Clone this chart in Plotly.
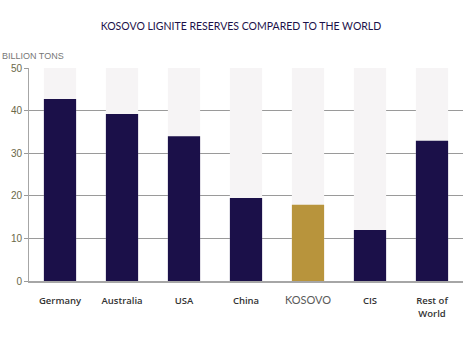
import plotly.graph_objects as go

# Lignite reserves, billion tons
countries = ["Germany", "Australia", "USA", "China", "KOSOVO", "CIS", "Rest of World"]
reserves = [42.7, 39.2, 34.0, 19.5, 17.9, 12.0, 32.9]
axis_max = 50
tick_labels = [
    "Germany", "Australia", "USA", "China",
    "<span style='font-family:Lato;font-size:11px;color:#5a5a5a;font-weight:normal'>KOSOVO</span>",
    "CIS", "Rest of<br>World",
]

navy = "#1b1049"
gold = "#b8943c"
bar_colors = [gold if c == "KOSOVO" else navy for c in countries]

fig = go.Figure()
# pale full-height backdrop behind each bar
fig.add_trace(go.Bar(
    x=countries, y=[axis_max] * len(countries),
    marker=dict(color="#f6f4f5", line=dict(width=0)),
    hoverinfo="skip", showlegend=False,
))
fig.add_trace(go.Bar(
    x=countries, y=reserves,
    marker=dict(color=bar_colors, line=dict(width=0)),
    showlegend=False,
))

fig.update_layout(
    width=467, height=345,
    margin=dict(l=29, r=4, t=68, b=64),
    paper_bgcolor="white", plot_bgcolor="white",
    barmode="overlay", bargap=0.48,
    title=dict(
        text="KOSOVO LIGNITE RESERVES COMPARED TO THE WORLD",
        x=0.516, xanchor="center", y=0.925, yanchor="middle",
        font=dict(family="Lato", size=10.5, color="#1b1049"),
    ),
    annotations=[dict(
        text="BILLION TONS", xref="paper", yref="paper",
        x=-29 / 434, xanchor="left", y=1 + 12 / 213, yanchor="middle",
        showarrow=False, font=dict(family="Liberation Sans", size=9, color="#777777"),
    )],
)
fig.update_xaxes(
    tickmode="array", tickvals=countries, ticktext=tick_labels,
    showline=True, linecolor="#a6a6a6", linewidth=1.5,
    ticks="", showgrid=False, ticklabelstandoff=10,
    tickfont=dict(family="Open Sans", size=9.5, color="#333333", weight=600),
)
fig.update_yaxes(
    range=[0, axis_max], dtick=10,
    showline=True, linecolor="#a6a6a6", linewidth=1,
    showgrid=True, gridcolor="#9a9a9a", gridwidth=1,
    ticks="outside", ticklen=4, tickcolor="#9a9a9a",
    zeroline=False,
    tickfont=dict(family="Liberation Sans", size=10, color="#6b6848"),
)

fig.write_html("out.html")
